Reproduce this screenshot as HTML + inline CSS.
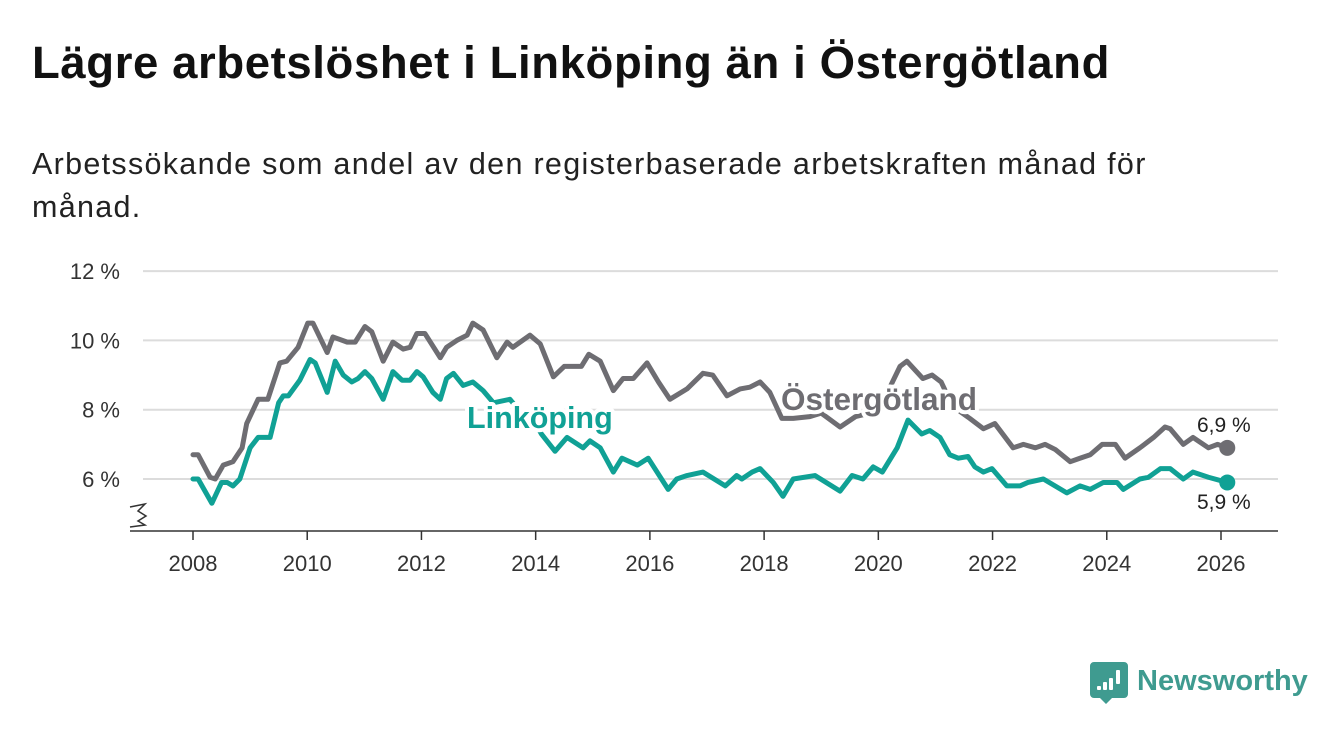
<!DOCTYPE html>
<html><head><meta charset="utf-8">
<style>
body{margin:0;background:#fff;width:1340px;height:734px;overflow:hidden;font-family:"Liberation Sans",sans-serif;}
#title{position:absolute;left:32px;top:37px;font-size:45.5px;font-weight:bold;color:#111;margin:0;letter-spacing:0.6px;white-space:nowrap}
#sub{position:absolute;left:32px;top:143px;width:1250px;font-size:30.5px;line-height:43px;color:#222;letter-spacing:1.3px}
svg{position:absolute;left:0;top:0}
</style></head><body>
<h1 id="title">Lägre arbetslöshet i Linköping än i Östergötland</h1>
<div id="sub">Arbetssökande som andel av den registerbaserade arbetskraften månad för<br>månad.</div>
<svg id="chart" width="1340" height="734"></svg>
<script>
const yTicks=[6,8,10,12];
const xTicks=[2008,2010,2012,2014,2016,2018,2020,2022,2024,2026];
const ostDates=[2008.0,2008.09,2008.3,2008.39,2008.53,2008.7,2008.86,2008.94,2009.14,2009.31,2009.52,2009.64,2009.84,2010.01,2010.1,2010.35,2010.45,2010.7,2010.84,2011.01,2011.13,2011.33,2011.5,2011.68,2011.8,2011.92,2012.06,2012.33,2012.44,2012.62,2012.8,2012.9,2013.08,2013.32,2013.5,2013.6,2013.9,2014.08,2014.31,2014.5,2014.8,2014.93,2015.13,2015.36,2015.53,2015.71,2015.95,2016.15,2016.35,2016.65,2016.93,2017.1,2017.35,2017.58,2017.75,2017.93,2018.1,2018.31,2018.51,2018.8,2019.0,2019.33,2019.6,2019.85,2020.1,2020.38,2020.5,2020.78,2020.94,2021.1,2021.3,2021.6,2021.84,2022.04,2022.36,2022.54,2022.75,2022.92,2023.1,2023.36,2023.53,2023.71,2023.92,2024.15,2024.32,2024.58,2024.82,2025.02,2025.11,2025.34,2025.51,2025.78,2025.94,2026.11];
const ostValues=[6.7,6.7,6.05,6.0,6.4,6.5,6.9,7.6,8.3,8.3,9.35,9.4,9.8,10.5,10.5,9.65,10.1,9.95,9.95,10.4,10.25,9.4,9.95,9.75,9.8,10.2,10.2,9.5,9.8,10.0,10.15,10.5,10.3,9.5,9.95,9.8,10.15,9.9,8.95,9.25,9.25,9.6,9.4,8.55,8.9,8.9,9.35,8.8,8.3,8.6,9.05,9.0,8.4,8.6,8.65,8.8,8.5,7.75,7.75,7.8,7.9,7.5,7.8,7.9,8.3,9.25,9.4,8.9,9.0,8.8,8.1,7.75,7.45,7.6,6.9,7.0,6.9,7.0,6.85,6.5,6.6,6.7,7.0,7.0,6.6,6.9,7.2,7.5,7.45,7.0,7.2,6.9,7.0,6.9];
const linDates=[2008.0,2008.09,2008.33,2008.5,2008.6,2008.7,2008.82,2009.0,2009.14,2009.35,2009.5,2009.58,2009.67,2009.87,2010.05,2010.14,2010.35,2010.49,2010.63,2010.78,2010.89,2011.01,2011.13,2011.33,2011.5,2011.66,2011.8,2011.92,2012.03,2012.2,2012.33,2012.44,2012.56,2012.73,2012.9,2013.08,2013.26,2013.55,2013.75,2014.0,2014.1,2014.34,2014.55,2014.83,2014.95,2015.13,2015.36,2015.51,2015.78,2015.97,2016.32,2016.47,2016.65,2016.93,2017.32,2017.52,2017.61,2017.79,2017.93,2018.16,2018.33,2018.51,2018.89,2019.33,2019.54,2019.73,2019.91,2020.07,2020.33,2020.52,2020.76,2020.9,2021.08,2021.25,2021.4,2021.57,2021.69,2021.84,2021.99,2022.25,2022.48,2022.62,2022.89,2023.3,2023.53,2023.71,2023.94,2024.18,2024.29,2024.58,2024.73,2024.94,2025.11,2025.34,2025.51,2025.78,2026.11];
const linValues=[6.0,6.0,5.3,5.9,5.9,5.8,6.0,6.9,7.2,7.2,8.2,8.4,8.4,8.85,9.45,9.35,8.5,9.4,9.0,8.8,8.9,9.1,8.9,8.3,9.1,8.85,8.85,9.1,8.95,8.5,8.3,8.9,9.05,8.7,8.8,8.55,8.2,8.3,7.9,7.6,7.3,6.8,7.2,6.9,7.1,6.9,6.2,6.6,6.4,6.6,5.7,6.0,6.1,6.2,5.8,6.1,6.0,6.2,6.3,5.9,5.5,6.0,6.1,5.65,6.1,6.0,6.35,6.2,6.9,7.7,7.3,7.4,7.2,6.7,6.6,6.65,6.35,6.2,6.3,5.8,5.8,5.9,6.0,5.6,5.8,5.7,5.9,5.9,5.7,6.0,6.05,6.3,6.3,6.0,6.2,6.05,5.9];

const NS='http://www.w3.org/2000/svg';
const svg=document.getElementById('chart');
const X=v=>193+(v-2008)*(1221-193)/18;
const Y=v=>479-(v-6)*34.65;
function mk(tag,attrs,parent){const e=document.createElementNS(NS,tag);for(const k in attrs)e.setAttribute(k,attrs[k]);(parent||svg).appendChild(e);return e;}
yTicks.forEach(t=>{
  const g=mk('line',{x1:143,x2:1278,y1:Y(t),y2:Y(t),stroke:'#dcdcdc','stroke-width':2});
  
  
  const l=mk('text',{x:120,y:Y(t)+8,'text-anchor':'end','font-size':22,fill:'#333'});
  l.textContent=t+' %';
  
  
});
const ax=mk('line',{x1:130,x2:1278,y1:531,y2:531,stroke:'#333','stroke-width':1.5});


const brk=mk('polyline',{points:'130,507 145,504 138,511 146,516 138,521 145,525 130,527',fill:'none',stroke:'#333','stroke-width':1.5});


xTicks.forEach(t=>{
  const tk=mk('line',{x1:X(t),x2:X(t),y1:531,y2:540,stroke:'#333','stroke-width':1.5});
  
  
  const l=mk('text',{x:X(t),y:571,'text-anchor':'middle','font-size':22,fill:'#333'});
  l.textContent=t;
  
  
});
function series(dates,vals,color,name){
  const p=mk('polyline',{points:dates.map((d,i)=>X(d)+','+Y(vals[i])).join(' '),fill:'none',stroke:color,'stroke-width':5,'stroke-linejoin':'round','stroke-linecap':'round'});
  
  
  const n=dates.length-1;
  const c=mk('circle',{cx:X(dates[n]),cy:Y(vals[n]),r:8,fill:color});
  
  
}
series(ostDates,ostValues,'#6e6d72','ostergotland');
series(linDates,linValues,'#10a195','linkoping');
function label(txt,x,y,color,name,bold,size){
  const t=mk('text',{x:x,y:y,'font-size':size,'font-weight':bold?'bold':'normal',fill:color,stroke:'#fff','stroke-width':bold?8:0,'paint-order':'stroke','stroke-linejoin':'round'});
  t.textContent=txt;
  
  
}
const nO=ostValues.length-1,nL=linValues.length-1;
label('Östergötland',781,410,'#6e6d72','ostergotland-label',true,31.5);
label('Linköping',467,428,'#10a195','linkoping-label',true,30.5);
label(String(ostValues[nO]).replace('.',',')+' %',1197,432,'#222','ostergotland-end-value',false,21);
label(String(linValues[nL]).replace('.',',')+' %',1197,509,'#222','linkoping-end-value',false,21);
const lg=mk('g',{});


mk('path',{d:'M1094,662 h30 a4,4 0 0 1 4,4 v28 a4,4 0 0 1 -4,4 h-12 l-6,6 l-6,-6 h-6 a4,4 0 0 1 -4,-4 v-28 a4,4 0 0 1 4,-4z',fill:'#3f9b90'},lg);
[[1097,684,4,8],[1103,680,4,12],[1109,676,4,16],[1116,668,4,18]].forEach(b=>mk('rect',{x:b[0],y:b[1]+2,width:b[2],height:b[3]-4,fill:'#fff',rx:1},lg));
const lt=mk('text',{x:1137,y:690,'font-size':29,'font-weight':'bold',fill:'#3f9b90'},lg);
lt.textContent='Newsworthy';
</script>
</body></html>
